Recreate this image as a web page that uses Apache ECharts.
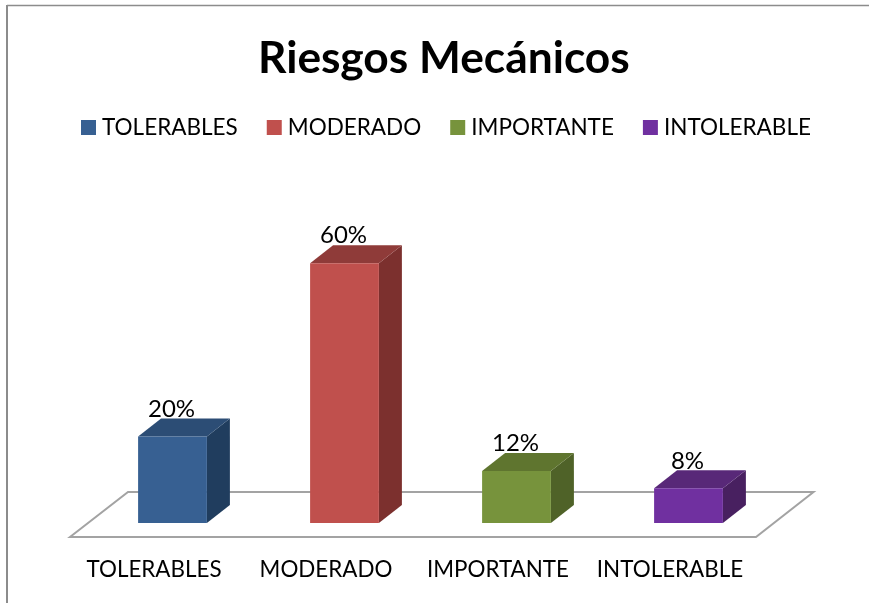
<!DOCTYPE html>
<html><head><meta charset="utf-8">
<style>html,body{margin:0;padding:0;background:#fff}#c{width:869px;height:603px}</style>
<script src="https://cdn.jsdelivr.net/npm/echarts@6/dist/echarts.min.js"></script>
</head><body><div id="c"></div>
<script>
const categories = ['TOLERABLES', 'MODERADO', 'IMPORTANTE', 'INTOLERABLE'];
const values = [20, 60, 12, 8];
const labels = ['20%', '60%', '12%', '8%'];
const frontColors = ['#376092', '#c0504d', '#77933c', '#7030a0'];
const topColors = ['#2c4d75', '#8f3b39', '#5f752f', '#582878'];
const sideColors = ['#203d5e', '#7c302e', '#4f6228', '#482060'];
const titleText = 'Riesgos Mecánicos';
const font = 'Lato, Carlito, sans-serif';
const DX = 23, DY = 18;

function barRender(i) {
  return function (params, api) {
    const top = api.coord([api.value(0), api.value(1)]);
    const base = api.coord([api.value(0), 0]);
    const w = api.size([1, 0])[0] * 0.4;
    const l = top[0] - w / 2, r = top[0] + w / 2, t = top[1], b = base[1];
    return { type: 'group', children: [
      { type: 'polygon', shape: { points: [[r, t], [r + DX, t - DY], [r + DX, b - DY], [r, b]] }, style: { fill: sideColors[i] } },
      { type: 'polygon', shape: { points: [[l, t], [l + DX, t - DY], [r + DX, t - DY], [r, t]] }, style: { fill: topColors[i] } },
      { type: 'rect', shape: { x: l, y: t, width: w, height: b - t }, style: { fill: frontColors[i] } },
      { type: 'text', x: top[0] - 1, y: t - 27.5, style: { text: labels[i], fill: '#000', font: '24px ' + font, align: 'center', verticalAlign: 'middle' } }
    ] };
  };
}
function floorRender(params, api) {
  const s = params.coordSys, yb = s.y + s.height, L = s.x, R = s.x + s.width;
  return { type: 'polygon', shape: { points: [[L - 16.5, yb + 14], [L + 41.5, yb - 31], [R + 39, yb - 31], [R - 18.5, yb + 14]] },
    style: { fill: 'none', stroke: '#a3a3a3', lineWidth: 2 } };
}
const series = [{ type: 'custom', name: '_floor', silent: true, z: 1, renderItem: floorRender, data: [[0, 0]], clip: false }];
categories.forEach((c, i) => series.push({
  type: 'custom', name: c, z: 2, clip: false, renderItem: barRender(i),
  itemStyle: { color: frontColors[i] },
  encode: { x: 0, y: 1 },
  data: [[i, values[i]]]
}));
const chart = echarts.init(document.getElementById('c'), null, { renderer: 'canvas' });
chart.setOption({
  animation: false,
  backgroundColor: '#fff',
  title: { text: titleText, left: 253, top: 32, itemGap: 0, textStyle: { fontFamily: font, fontSize: 44.3, fontWeight: 'bold', color: '#000' } },
  legend: { data: categories, left: 76, top: 111, icon: 'rect', itemWidth: 15, itemHeight: 15, itemGap: 29,
    textStyle: { fontFamily: font, fontSize: 22.5, color: '#000', padding: [0, 0, 0, 1] } },
  grid: { left: 86.5, width: 688, top: 219.9, height: 303.1 },
  xAxis: { type: 'category', data: categories, axisLine: { show: false }, axisTick: { show: false },
    axisLabel: { interval: 0, margin: 36, color: '#000', fontFamily: font, fontSize: 22.4, padding: [0, 37, 0, 0] } },
  yAxis: { type: 'value', min: 0, max: 70, show: false },
  series,
  graphic: [
    { type: 'line', shape: { x1: 7, y1: 5, x2: 7, y2: 603 }, style: { stroke: '#8c8c8c', lineWidth: 2 } },
    { type: 'line', shape: { x1: 7, y1: 5.5, x2: 869, y2: 5.5 }, style: { stroke: '#8c8c8c', lineWidth: 1.5 } }
  ]
});
</script></body></html>
